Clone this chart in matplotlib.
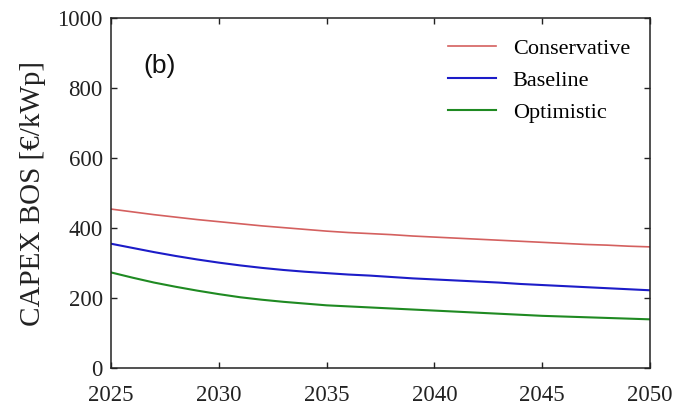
import numpy as np
import matplotlib
matplotlib.use("Agg")
import matplotlib.pyplot as plt

# CAPEX BOS trajectories per scenario, €/kWp
years = np.arange(2025, 2051)
conservative = [455, 447, 439, 432, 425, 419, 413, 407, 402, 397, 392, 388, 385,
                382, 378, 375, 372, 369, 366, 363, 360, 357, 354, 352, 349, 347]
baseline = [356, 344, 332, 321, 311, 302, 294, 287, 281, 276, 272, 268, 265,
            261, 257, 254, 251, 248, 245, 241, 238, 235, 232, 229, 226, 223]
optimistic = [274, 259, 245, 233, 222, 212, 203, 196, 190, 185, 180, 177, 174,
              171, 168, 165, 162, 159, 156, 153, 150, 148, 146, 144, 142, 140]

plt.rcParams['font.family'] = ['Liberation Serif', 'DejaVu Serif']

fig = plt.figure(figsize=(6.77, 4.07), dpi=100)
ax = fig.add_axes([0.164, 0.095, 0.796, 0.860])

ax.plot(years, conservative, color='#d4605f', lw=1.2, label='Conservative')
ax.plot(years, baseline, color='#1c1cc8', lw=1.5, label='Baseline')
ax.plot(years, optimistic, color='#1f8a22', lw=1.5, label='Optimistic')

ax.set_xlim(2025, 2050)
ax.set_ylim(0, 1000)
ax.set_xticks([2025, 2030, 2035, 2040, 2045, 2050])
ax.set_yticks([0, 200, 400, 600, 800, 1000])
ax.tick_params(direction='in', top=True, right=True, length=4.5, width=1.0,
               labelsize=16.5, colors='#222222')
ax.tick_params(axis='x', pad=12)
ax.tick_params(axis='y', pad=6)
for s in ax.spines.values():
    s.set_linewidth(1.1)
    s.set_color('#222222')

ax.set_ylabel('CAPEX BOS [€/kWp]', fontsize=21, labelpad=8, color='#222222')
ax.text(0.06, 0.845, '(b)', transform=ax.transAxes, fontsize=19,
        family=['Liberation Sans', 'DejaVu Sans'], color='#111111')

ax.legend(loc='upper right', bbox_to_anchor=(1.0, 1.0), frameon=False,
          fontsize=16, handlelength=2.15, handletextpad=0.75, labelspacing=0.52,
          borderaxespad=0.5)

fig.savefig('out.png', dpi=100)
